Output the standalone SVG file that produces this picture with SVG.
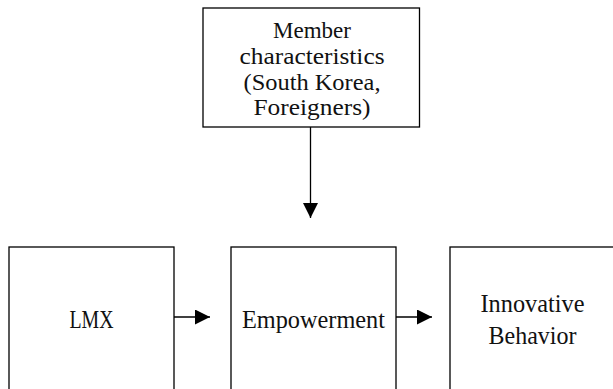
<svg xmlns="http://www.w3.org/2000/svg" width="613" height="389" viewBox="0 0 613 389">
  <style>
    .box { fill: #ffffff; stroke: #000000; stroke-width: 1.3; }
    .lbl { font-family: "Liberation Serif", "Times New Roman", serif; font-size: 26px; fill: #111111; text-anchor: middle; }
    .top { font-size: 23px; }
    .edge { stroke: #000000; stroke-width: 1.3; fill: none; }
  </style>
  <defs>
    <marker id="arr" viewBox="0 0 15 15" refX="15" refY="7.5" markerWidth="15" markerHeight="15" markerUnits="userSpaceOnUse" orient="auto">
      <path d="M0,0 L15,7.5 L0,15 Z" fill="#000000"/>
    </marker>
  </defs>
  <rect width="613" height="389" fill="#ffffff"/>

  <g id="node-member">
    <rect class="box" x="203" y="8" width="216.5" height="119"/>
    <text class="lbl top" x="312" y="38" textLength="78" lengthAdjust="spacingAndGlyphs">Member</text>
    <text class="lbl top" x="312" y="64" textLength="145" lengthAdjust="spacingAndGlyphs">characteristics</text>
    <text class="lbl top" x="312" y="90" textLength="137" lengthAdjust="spacingAndGlyphs">(South Korea,</text>
    <text class="lbl top" x="312" y="115" textLength="117" lengthAdjust="spacingAndGlyphs">Foreigners)</text>
  </g>

  <g id="node-lmx">
    <rect class="box" x="9" y="247" width="165" height="160"/>
    <text class="lbl" x="91.5" y="328" textLength="44" lengthAdjust="spacingAndGlyphs">LMX</text>
  </g>

  <g id="node-empowerment">
    <rect class="box" x="231" y="247" width="165" height="160"/>
    <text class="lbl" x="313.5" y="328" textLength="143" lengthAdjust="spacingAndGlyphs">Empowerment</text>
  </g>

  <g id="node-innovative">
    <rect class="box" x="450" y="247" width="180" height="160"/>
    <text class="lbl" x="532.5" y="312" textLength="104" lengthAdjust="spacingAndGlyphs">Innovative</text>
    <text class="lbl" x="532.5" y="344" textLength="88" lengthAdjust="spacingAndGlyphs">Behavior</text>
  </g>

  <g id="connectors">
    <line class="edge" x1="310.5" y1="127" x2="310.5" y2="218" marker-end="url(#arr)"/>
    <line class="edge" x1="174" y1="317" x2="210" y2="317" marker-end="url(#arr)"/>
    <line class="edge" x1="396" y1="317" x2="432" y2="317" marker-end="url(#arr)"/>
  </g>
</svg>
